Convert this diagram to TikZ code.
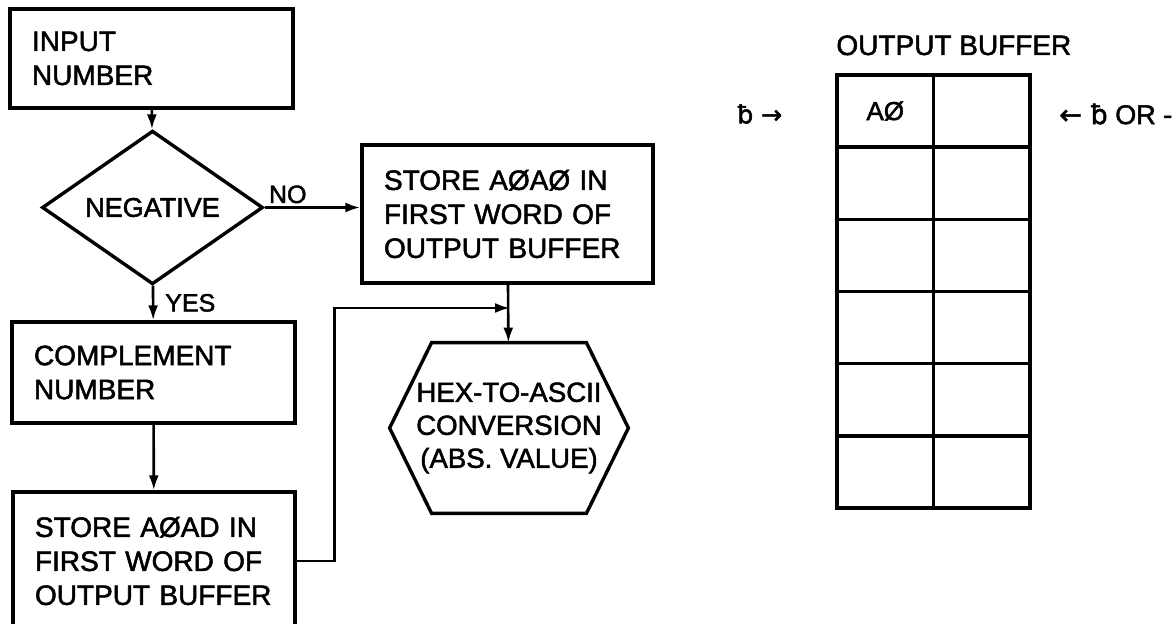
\documentclass[tikz,border=0pt]{standalone}
\usepackage{fontspec}
\setmainfont{Liberation Sans}[FakeBold=1.8]
\newfontfamily\symfont{DejaVu Sans}[FakeBold=1.8]
\usetikzlibrary{arrows.meta, positioning, shapes.geometric}

\begin{document}
\begin{tikzpicture}[x=0.5pt, y=-0.5pt,
    font=\fontsize{14}{17}\selectfont,
    procbox/.style={draw, line width=1.7pt, align=left, inner xsep=11pt, inner ysep=0pt},
    decision/.style={draw, diamond, line width=1.7pt, inner sep=0pt, minimum width=110.5pt, minimum height=72.5pt, font=\fontsize{13.5}{16}\selectfont},
    convert/.style={inner sep=0pt, minimum width=119pt, minimum height=85pt, align=center, font=\fontsize{13.8}{16.5}\selectfont},
    cell/.style={draw, line width=1.7pt, minimum width=48.25pt, minimum height=36.08pt, inner sep=0pt},
    tag/.style={font=\fontsize{12.5}{14}\selectfont, inner sep=1.5pt},
    arr/.style={line width=1.3pt, -{Latex[length=7.5pt, width=5pt]}}]
    \useasboundingbox (0,0) rectangle (1174,624);

    \node[procbox, text width=119.5pt, minimum height=49.5pt] (input) at (151.5,58.5) {INPUT\\NUMBER};
    \node[decision] (neg) at (152.5,207.5) {NEGATIVE};
    \node[procbox, text width=123.5pt, minimum height=69pt] (store1) at (507.5,214) {STORE AØAØ IN\\FIRST WORD OF\\OUTPUT BUFFER};
    \node[procbox, text width=119.5pt, minimum height=50.5pt] (comp) at (153.5,372.5) {COMPLEMENT\\NUMBER};
    \node[procbox, text width=119pt, minimum height=69pt] (store2) at (154,561) {STORE AØAD IN\\FIRST WORD OF\\OUTPUT BUFFER};
    \node[convert] (hex) at (509,428) {HEX-TO-ASCII\\CONVERSION\\(ABS. VALUE)};
    \draw[line width=1.7pt] (hex.west) -- ([xshift=21pt]hex.north west) -- ([xshift=-21pt]hex.north east)
      -- (hex.east) -- ([xshift=-21pt]hex.south east) -- ([xshift=21pt]hex.south west) -- cycle;
    \coordinate (merge) at (510,308);

    \draw[arr] (input) -- (neg);
    \draw[arr] (neg.east) -- (neg.east -| store1.west) node[tag, pos=0, anchor=south west] (no) {NO};
    \draw[arr] (neg) -- (comp) node[tag, pos=0, anchor=north west, xshift=4pt, yshift=-2pt] (yes) {YES};
    \draw[arr] (comp) -- (store2);
    \draw[arr] (store1) -- (hex);
    \draw[arr] (store2.east) -- ++(38,0) |- (merge);

    \node[anchor=base west, inner sep=0pt] (title) at (836,55) {OUTPUT BUFFER};
    \foreach \r in {1,...,6} {
      \node[cell] (left\r) at (885.25,{75+72.17*(\r-0.5)}) {};
      \node[cell] (right\r) at (981.75,{75+72.17*(\r-0.5)}) {};
    }
    \node[font=\fontsize{13}{15}\selectfont] (aword) at (left1) {AØ};
    \node[tag, anchor=west] (inptr) at (734,114) {\symfont ƀ →};
    \node[tag, anchor=west, font=\fontsize{13.5}{15}\selectfont] (outptr) at (1056,114) {{\symfont ← ƀ} OR -};
\end{tikzpicture}
\end{document}
